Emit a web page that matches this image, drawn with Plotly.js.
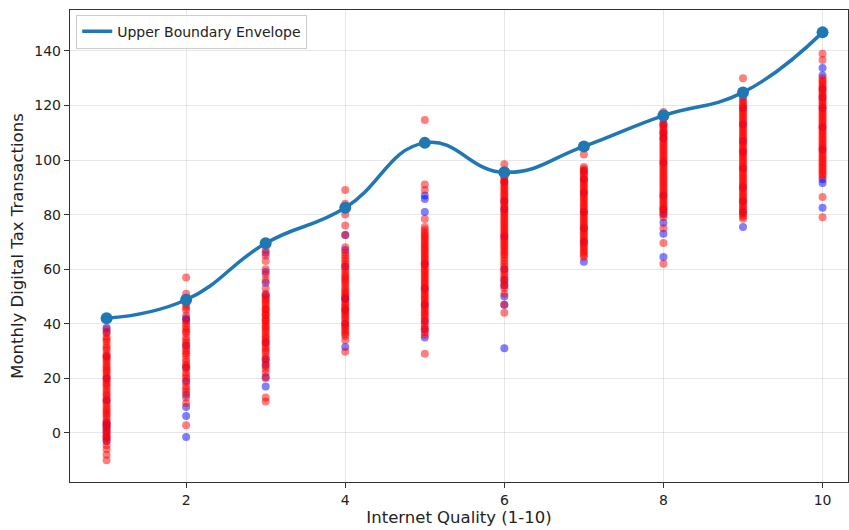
<!DOCTYPE html>
<html>
<head>
<meta charset="utf-8">
<script src="https://cdn.plot.ly/plotly-3.0.1.min.js"></script>
<style>html,body{margin:0;padding:0;background:#fff;}#chart{width:849px;height:530px;}</style>
</head>
<body>
<div id="chart"></div>
<script>
const qualityLevels = [1, 2, 3, 4, 5, 6, 7, 8, 9, 10];
const envelopeValues = [42, 48.8, 69.5, 82.5, 106.3, 95.5, 105, 116.3, 124.8, 146.8];

const redTransactions = [
  [-10, -8, -6, -4.5, -3, -2, -1.5, -0.5, 0, 1, 1.8, 2.5, 3.2, 4, 5, 6, 6.8, 7.5, 8.3, 9, 10, 11, 11.8, 12.5, 13.5, 14.2, 15, 16, 17, 17.8, 18.5, 19.5, 20.2, 21, 22, 22.8, 23.5, 24.2, 25, 26, 26.8, 27.5, 28.3, 29, 30.5, 31.2, 32, 33.5, 34.2, 35, 36.5, 38],
  [57, 51, 49.5, 47, 46, 45, 43, 41, 40, 39, 38, 37.2, 36.5, 35, 34, 33, 32, 31, 30, 29.2, 28.5, 27, 26, 25, 24.2, 23.5, 22, 21, 20, 18.5, 17, 16, 15, 13, 11, 2.8],
  [67, 65, 63, 60, 58, 56, 53, 51, 50, 49.3, 48.5, 47.8, 47, 46, 45.3, 45, 44, 43.3, 43, 42, 41.2, 41, 40, 39.2, 38.5, 37.8, 37, 36, 35.2, 34.5, 33.8, 33, 32, 31, 30.2, 29.5, 28, 27, 26, 24.5, 23.5, 22, 20, 13, 11.5],
  [89, 84, 80, 76, 72.5, 68, 66, 65, 64, 63, 62, 61, 60, 59, 58, 57.2, 56.5, 55.8, 55, 54, 53, 52.2, 51.5, 50.8, 50, 49, 48, 47.2, 46.5, 45.8, 45, 44.2, 43.5, 42.7, 42, 41, 40, 39.2, 38.5, 37.8, 37, 36.2, 35.5, 34, 29.7],
  [114.7, 91, 89, 78.4, 75.5, 74.5, 73.5, 72.7, 72, 71.3, 70.5, 69.8, 69, 68.2, 67.5, 66.8, 66, 65.2, 64.5, 63.7, 63, 62.2, 61.5, 60.8, 60, 59.2, 58.5, 57.8, 57, 56.2, 55.5, 54.8, 54, 53.2, 52.5, 51.8, 51, 50.2, 49.5, 48.8, 48, 47.2, 46.5, 45.8, 45, 44.2, 43.5, 42.8, 42, 41, 40, 39, 38, 37, 36, 29],
  [98.5, 95, 94.2, 93.5, 92.7, 92, 91.2, 90.5, 89.7, 89, 88.2, 87.5, 86.7, 86, 85.2, 84.5, 83.7, 83, 82.2, 81.5, 80.7, 80, 79.2, 78.5, 77.7, 77, 76.2, 75.5, 74.7, 74, 73.2, 72.5, 71.7, 71, 70.2, 69.5, 68.7, 68, 67.2, 66.5, 65.7, 65, 64, 63, 62, 61, 60, 59, 58, 57, 56, 55, 54, 53, 51, 47, 44],
  [102, 97.5, 96.7, 96, 95.2, 94.5, 93.7, 93, 92.2, 91.5, 90.7, 90, 89.2, 88.5, 87.7, 87, 86.2, 85.5, 84.7, 84, 83.2, 82.5, 81.7, 81, 80.2, 79.5, 78.7, 78, 77.2, 76.5, 75.7, 75, 74.2, 73.5, 72.7, 72, 71.2, 70.5, 69.7, 69, 68.2, 67.5, 66.7, 66, 65.2, 64.5],
  [117.6, 115, 113.6, 112.8, 112, 111.2, 110.5, 109.7, 109, 108.2, 107.5, 106.7, 106, 105.2, 104.5, 103.7, 103, 102.2, 101.5, 100.7, 100, 99.2, 98.5, 97.7, 97, 96.2, 95.5, 94.7, 94, 93.2, 92.5, 91.7, 91, 90.2, 89.5, 88.7, 88, 87.2, 86.5, 85.7, 85, 84.2, 83.5, 82.7, 82, 81.2, 80.5, 79, 75, 69.6, 62],
  [130, 122, 121.2, 120.5, 119.7, 119, 118.2, 117.5, 116.7, 116, 115.2, 114.5, 113.7, 113, 112.2, 111.5, 110.7, 110, 109.2, 108.5, 107.7, 107, 106.2, 105.5, 104.7, 104, 103.2, 102.5, 101.7, 101, 100.2, 99.5, 98.7, 98, 97.2, 96.5, 95.7, 95, 94.2, 93.5, 92.7, 92, 91.2, 90.5, 89.7, 89, 88.2, 87.5, 86.7, 86, 85.2, 84.5, 83.7, 83, 82.2, 81.5, 80.7, 80, 79.2, 78.5],
  [139, 136.7, 130, 129.2, 128.5, 127.7, 127, 126.2, 125.5, 124.7, 124, 123.2, 122.5, 121.7, 121, 120.2, 119.5, 118.7, 118, 117.2, 116.5, 115.7, 115, 114.2, 113.5, 112.7, 112, 111.2, 110.5, 109.7, 109, 108.2, 107.5, 106.7, 106, 105.2, 104.5, 103.7, 103, 102.2, 101.5, 100.7, 100, 99.2, 98.5, 97.7, 97, 96.2, 95.5, 94.7, 94, 86.5, 79]
];

const blueTransactions = [
  [38.5, 37, 28, 20, 12, 3.7, 3, 2, 0.5, -1.5, -3],
  [48, 42, 41.5, 32, 24, 19, 14, 9.5, 6.2, -1.5],
  [66, 59, 55, 50.5, 33, 27, 25, 20.5, 17],
  [72.5, 67, 61, 49.5, 49, 45, 40, 31.5],
  [87, 85.7, 81, 62, 53, 47, 41, 38, 35],
  [92, 85, 82, 72, 60, 56, 54, 50, 47, 31],
  [96, 93, 88, 81, 75, 70, 62.7],
  [116, 113, 110, 108, 99, 87, 82, 80, 77, 73, 64.5],
  [123, 119, 113, 107, 103, 97, 90, 85, 81, 75.5],
  [133.7, 131, 126, 123, 119, 112, 104, 93, 91.6, 82.5]
];

function flatten(groups) {
  const xs = [], ys = [];
  groups.forEach((vals, i) => vals.forEach(v => { xs.push(qualityLevels[i]); ys.push(v); }));
  return {xs, ys};
}
const red = flatten(redTransactions);
const blue = flatten(blueTransactions);

const traces = [
  {x: blue.xs, y: blue.ys, type: 'scatter', mode: 'markers', showlegend: false,
   marker: {color: 'rgba(0,0,255,0.5)', size: 8, line: {width: 0}}},
  {x: red.xs, y: red.ys, type: 'scatter', mode: 'markers', showlegend: false,
   marker: {color: 'rgba(255,0,0,0.5)', size: 8, line: {width: 0}}},
  {x: qualityLevels, y: envelopeValues, type: 'scatter', mode: 'lines', name: 'Upper Boundary Envelope',
   line: {color: '#1f77b4', width: 3.5, shape: 'spline', smoothing: 1.3}},
  {x: qualityLevels, y: envelopeValues, type: 'scatter', mode: 'markers', showlegend: false,
   marker: {color: '#1f77b4', size: 12}}
];

const axisCommon = {
  showline: true, linecolor: '#333', linewidth: 1.2, mirror: true,
  ticks: 'outside', ticklen: 5, tickcolor: '#333', tickwidth: 1,
  showgrid: true, gridcolor: 'rgba(176,176,176,0.3)', gridwidth: 1,
  zeroline: false, tickfont: {size: 14, color: '#222'}
};

const layout = {
  width: 849, height: 530,
  margin: {l: 70, r: 1, t: 10, b: 48},
  paper_bgcolor: '#fff', plot_bgcolor: '#fff',
  font: {family: 'DejaVu Sans, sans-serif', color: '#222'},
  xaxis: Object.assign({}, axisCommon, {
    range: [0.54, 10.32], tickvals: [2, 4, 6, 8, 10],
    title: {text: 'Internet Quality (1-10)', font: {size: 16.5}, standoff: 4}
  }),
  yaxis: Object.assign({}, axisCommon, {
    range: [-18, 155], tickvals: [0, 20, 40, 60, 80, 100, 120, 140],
    title: {text: 'Monthly Digital Tax Transactions', font: {size: 16.5}, standoff: 6}
  }),
  legend: {x: 0.008, y: 0.99, xanchor: 'left', yanchor: 'top',
    bgcolor: 'rgba(255,255,255,0.8)', bordercolor: '#ccc', borderwidth: 1,
    font: {size: 14}},
  showlegend: true
};

Plotly.newPlot('chart', traces, layout, {staticPlot: true, displayModeBar: false});
</script>
</body>
</html>
